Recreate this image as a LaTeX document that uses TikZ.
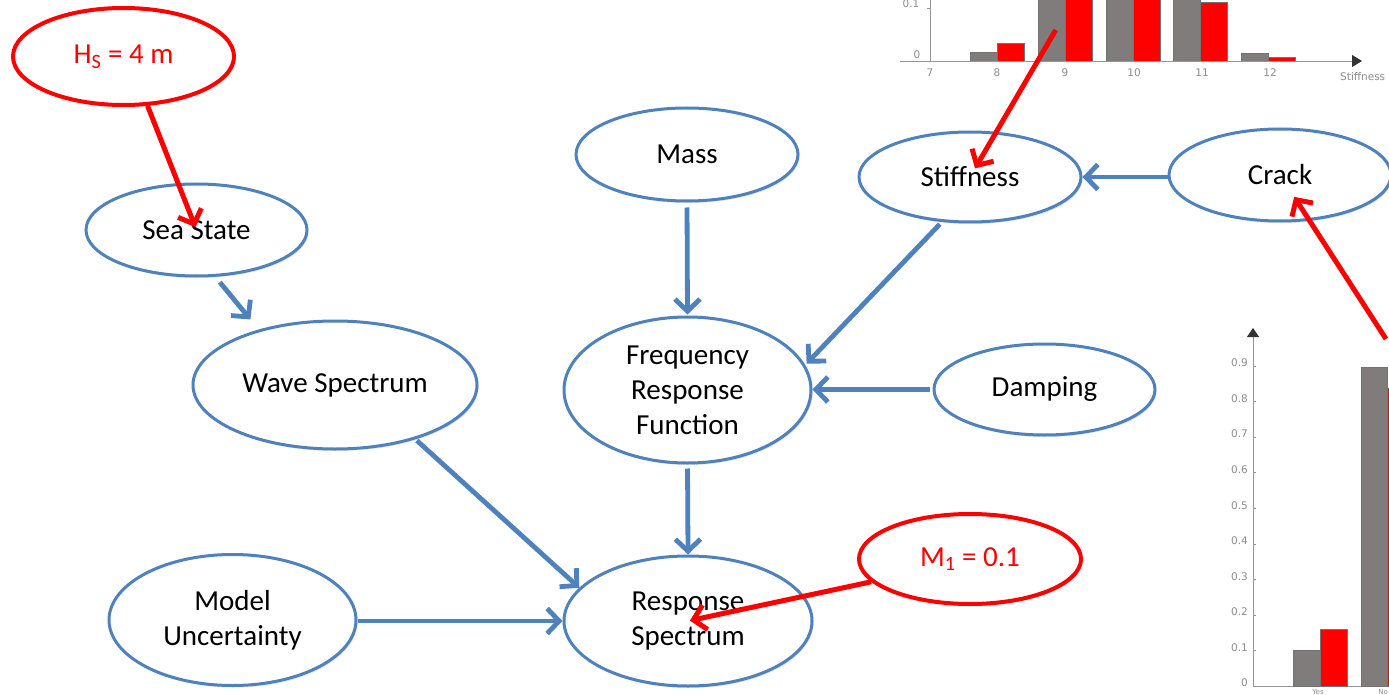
\documentclass[tikz,border=0pt]{standalone}
\usepackage{fontspec}
\setmainfont{Carlito}
\newfontfamily\chartfont{DejaVu Sans}
\usetikzlibrary{arrows.meta,shapes.geometric,shadows,calc}

\definecolor{nodeblue}{RGB}{79,129,189}
\definecolor{bargray}{RGB}{128,124,124}
\definecolor{axisgray}{RGB}{150,150,150}
\definecolor{labelgray}{RGB}{140,140,140}

\tikzset{
  bubble/.style={ellipse, inner sep=0pt, align=center, fill=white,
    font=\fontsize{29}{35}\selectfont,
    drop shadow={shadow xshift=1.5pt, shadow yshift=-2pt, opacity=0.22}},
  bluebubble/.style={bubble, draw=nodeblue, line width=3pt},
  redbubble/.style={bubble, draw=red, line width=4pt, text=red},
  link/.style={draw=nodeblue, line width=4.8pt,
    -{Straight Barb[length=12pt,width=25pt]}},
  redlink/.style={draw=red, line width=5pt,
    -{Straight Barb[length=12pt,width=25pt]}},
  axisline/.style={draw=axisgray, line width=0.8pt},
  greybar/.style={fill=bargray, draw=black!55, line width=0.6pt},
  redbar/.style={fill=red, draw=black!55, line width=0.6pt},
  ticklabel/.style={text=labelgray, font=\chartfont\fontsize{10.5}{12}\selectfont, inner sep=0pt},
  axistip/.style={-{Triangle[length=#1,width=12pt,color=black!80,fill=black!80]}},
}

\begin{document}
\begin{tikzpicture}[x=1pt,y=-1pt]
\useasboundingbox (0,0) rectangle (1389,695);
\clip (0,0) rectangle (1389,695);
\fill[white] (0,0) rectangle (1389,695);

% ---- stiffness histogram (top right) ----
\draw[axisline] (930,-5) -- (930,61);
\draw[axisline] (927,8) -- (930,8);
\draw[greybar] (970,52) rectangle (997,61);
\draw[redbar]  (997,43) rectangle (1024,61);
\draw[greybar] (1038,-5) rectangle (1065,61);
\draw[redbar]  (1065,-5) rectangle (1092,61);
\draw[greybar] (1106,-5) rectangle (1133,61);
\draw[redbar]  (1133,-5) rectangle (1160,61);
\draw[greybar] (1173,-5) rectangle (1200,61);
\draw[redbar]  (1200,2) rectangle (1227,61);
\draw[greybar] (1241,53) rectangle (1268,61);
\draw[redbar]  (1268,57) rectangle (1295,61);
\draw[axisline, axistip=10pt] (900,61) -- (1362,61);
\node[ticklabel] (y01) at (911,4) {0.1};
\node[ticklabel] (y00) at (917,55) {0};
\node[ticklabel] (x7)  at (930,73) {7};
\node[ticklabel] (x8)  at (997,73) {8};
\node[ticklabel] (x9)  at (1065,73) {9};
\node[ticklabel] (x10) at (1134,73) {10};
\node[ticklabel] (x11) at (1202,73) {11};
\node[ticklabel] (x12) at (1270,73) {12};
\node[ticklabel, anchor=west] (xname) at (1340,77) {Stiffness};
\coordinate (histpick) at (1055.7,30);

% ---- crack probability chart (bottom right) ----
\draw[axisline] (1253,686) -- (1389,686);
\draw[axisline, axistip=9pt] (1253,686) -- (1253,328);
\foreach \v/\t in {0/0,1/0.1,2/0.2,3/0.3,4/0.4,5/0.5,6/0.6,7/0.7,8/0.8,9/0.9}{
  \pgfmathsetmacro{\yy}{686-35.55*\v}
  \draw[axisline, line width=0.5pt] (1253,\yy) -- (1256,\yy);
  \node[ticklabel, anchor=east] at (1248,\yy-3) {\t};
}
\draw[greybar] (1293,650) rectangle (1320,686);
\draw[redbar]  (1320,629) rectangle (1347,686);
\draw[greybar] (1361,367) rectangle (1387,686);
\draw[redbar]  (1387,388) rectangle (1414,686);
\node[ticklabel, font=\chartfont\fontsize{7}{8}\selectfont, anchor=south] (yes) at (1318,694.5) {Yes};
\node[ticklabel, font=\chartfont\fontsize{7}{8}\selectfont, anchor=south east] (no) at (1388,694.5) {No};
\coordinate (crackpick) at (1386,339);

% ---- network nodes ----
\node[redbubble,  minimum width=221pt, minimum height=97pt]  (hs)    at (123.5,56.5) {H\textsubscript{S} = 4 m};
\node[bluebubble, minimum width=221pt, minimum height=92pt]  (sea)   at (196.5,230)  {Sea State};
\node[bluebubble, minimum width=284pt, minimum height=128pt] (wave)  at (335,385)    {Wave Spectrum};
\node[bluebubble, minimum width=222pt, minimum height=93pt]  (mass)  at (687,154.5)  {Mass};
\node[bluebubble, minimum width=222pt, minimum height=90pt]  (stiff) at (970,177)    {Stiffness};
\node[bluebubble, minimum width=222pt, minimum height=92pt]  (crack) at (1280,175)   {Crack};
\node[bluebubble, minimum width=247pt, minimum height=146pt] (frf)   at (687.5,390)  {Frequency\\Response\\Function};
\node[bluebubble, minimum width=221pt, minimum height=91pt]  (damp)  at (1044.5,389.5) {Damping};
\node[bluebubble, minimum width=248pt, minimum height=130pt] (resp)  at (688,621)    {Response\\Spectrum};
\node[bluebubble, minimum width=247pt, minimum height=131pt] (model) at (232.5,620)  {Model\\Uncertainty};
\node[redbubble,  minimum width=222pt, minimum height=90pt]  (m1)    at (970,559)    {M\textsubscript{1} = 0.1};

% ---- causal links ----
\draw[link, shorten <=7pt, shorten >=13pt] (sea.-68) -- (wave.144);
\draw[link, shorten <=5pt, shorten >=1pt] (mass.south) -- (frf.north);
\draw[link, shorten <=3pt, shorten >=2pt] (stiff.-122.5) -- (frf.12.3);
\draw[link, shorten <=3pt] (damp.west) -- (damp.west -| frf.east);
\draw[link] (crack.west |- stiff.east) -- (stiff.east);
\draw[link, shorten <=4pt] (frf.south) -- (resp.north);
\draw[link, shorten <=2pt] (wave.-34.5) -- (resp.163);
\draw[link] (model.east |- resp.west) -- (resp.west);

% ---- evidence arrows ----
\draw[redlink, shorten >=3pt] (hs.-64) -- (sea.center);
\draw[redlink, shorten >=10pt] (histpick) -- (stiff.center);
\draw[redlink, shorten >=26pt] (crackpick) -- (crack.center);
\draw[redlink, shorten >=2pt] (m1.193) -- (resp.center);
\end{tikzpicture}
\end{document}
